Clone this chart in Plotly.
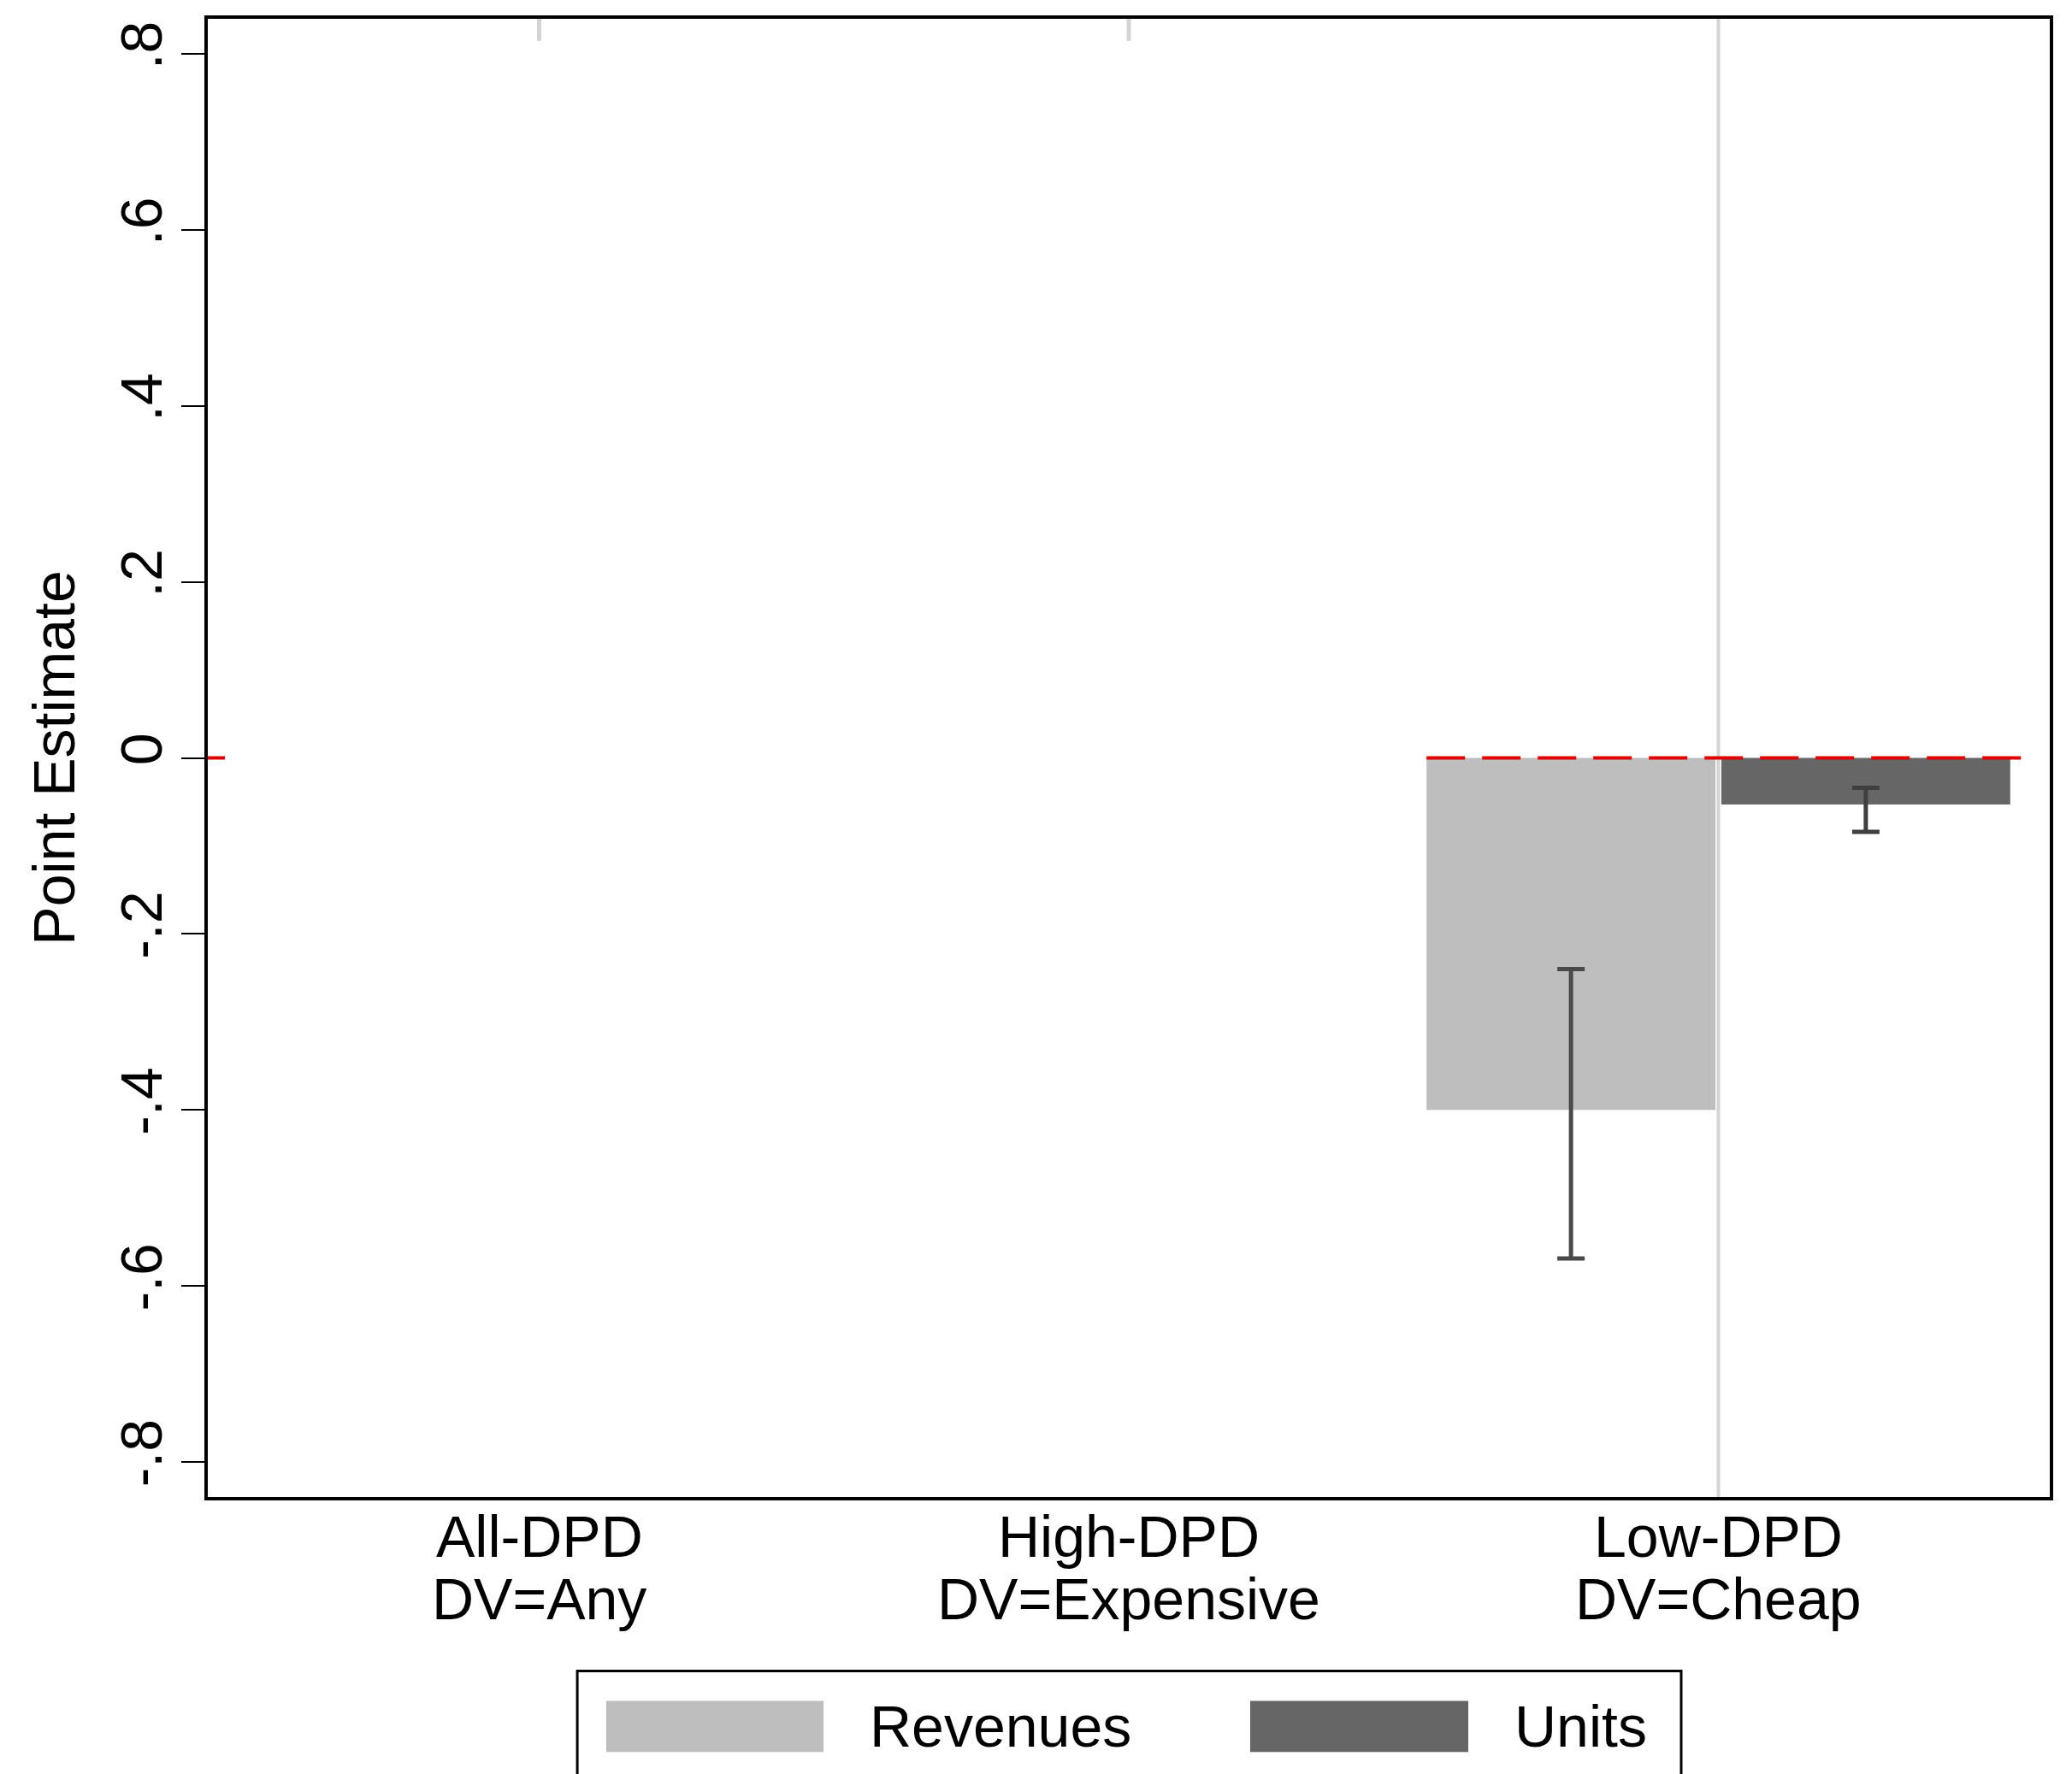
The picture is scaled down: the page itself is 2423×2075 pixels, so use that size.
import plotly.graph_objects as go

# ---- data ----
categories = ["All-DPD\nDV=Any", "High-DPD\nDV=Expensive", "Low-DPD\nDV=Cheap"]
cat_pos = [0, 1, 2]
revenues = [None, None, -0.40]
revenues_lo = [None, None, -0.569]
revenues_hi = [None, None, -0.240]
units = [None, None, -0.053]
units_lo = [None, None, -0.084]
units_hi = [None, None, -0.034]
ytick_vals = [0.8, 0.6, 0.4, 0.2, 0, -0.2, -0.4, -0.6, -0.8]
ytick_text = [".8", ".6", ".4", ".2", "0", "-.2", "-.4", "-.6", "-.8"]
legend_names = ["Revenues", "Units"]

COL_REV = "#bebebe"
COL_UNI = "#666666"
COL_ERR = "#4a4a4a"
FONT = "Liberation Sans, Arial, Helvetica, sans-serif"
FS = 68


def err_plus(v, hi):
    return [None if a is None else b - a for a, b in zip(v, hi)]


def err_minus(v, lo):
    return [None if a is None else a - b for a, b in zip(v, lo)]


fig = go.Figure()
fig.add_trace(go.Bar(
    x=cat_pos, y=revenues, name=legend_names[0], marker_color=COL_REV,
    marker_line_width=0, showlegend=False,
    error_y=dict(type="data", symmetric=False, array=err_plus(revenues, revenues_hi),
                 arrayminus=err_minus(revenues, revenues_lo), color=COL_ERR,
                 thickness=5, width=16),
))
fig.add_trace(go.Bar(
    x=cat_pos, y=units, name=legend_names[1], marker_color=COL_UNI,
    marker_line_width=0, showlegend=False,
    error_y=dict(type="data", symmetric=False, array=err_plus(units, units_hi),
                 arrayminus=err_minus(units, units_lo), color="#3f3f3f",
                 thickness=5, width=16),
))

shapes = []
# light gray vertical markers at the categories
shapes.append(dict(type="line", xref="x", yref="y", x0=2, x1=2, y0=-0.84, y1=0.84,
                   line=dict(color="#d4d4d4", width=4), layer="below"))
for c in [0, 1]:
    shapes.append(dict(type="line", xref="x", yref="y", x0=c, x1=c, y0=0.815, y1=0.84,
                       line=dict(color="#d4d4d4", width=5), layer="below"))
# red zero reference line
shapes.append(dict(type="line", xref="x", yref="y", x0=1.505, x1=2.54, y0=0, y1=0,
                   line=dict(color="#e00000", width=4, dash="45px,20px"), layer="above"))
shapes.append(dict(type="line", xref="x", yref="y", x0=-0.562, x1=-0.533, y0=0, y1=0,
                   line=dict(color="#e00000", width=4), layer="above"))

# manual legend (Stata-style wide swatches)
shapes.append(dict(type="rect", xref="paper", yref="paper", x0=0.2006, x1=0.7999,
                   y0=-0.21, y1=-0.1177, line=dict(color="black", width=3),
                   fillcolor="white", layer="above"))
shapes.append(dict(type="rect", xref="paper", yref="paper", x0=0.2163, x1=0.3343,
                   y0=-0.1725, y1=-0.1379, line=dict(width=0), fillcolor=COL_REV))
shapes.append(dict(type="rect", xref="paper", yref="paper", x0=0.5659, x1=0.6843,
                   y0=-0.1725, y1=-0.1379, line=dict(width=0), fillcolor=COL_UNI))

annotations = [
    dict(xref="paper", yref="paper", x=0.3584, y=-0.1552, text=legend_names[0],
         showarrow=False, xanchor="left", yanchor="middle",
         font=dict(family=FONT, size=FS, color="black")),
    dict(xref="paper", yref="paper", x=0.7085, y=-0.1552, text=legend_names[1],
         showarrow=False, xanchor="left", yanchor="middle",
         font=dict(family=FONT, size=FS, color="black")),
]
# category labels (two lines, Stata-like tight line spacing)
for pos, lab in zip(cat_pos, categories):
    l1, l2 = lab.split("\n")
    annotations.append(dict(xref="x", yref="paper", x=pos, y=-0.0265, text=l1,
                            showarrow=False, xanchor="center", yanchor="middle",
                            font=dict(family=FONT, size=FS, color="black")))
    annotations.append(dict(xref="x", yref="paper", x=pos, y=-0.0687, text=l2,
                            showarrow=False, xanchor="center", yanchor="middle",
                            font=dict(family=FONT, size=FS, color="black")))

fig.update_layout(
    width=2423, height=2075,
    margin=dict(l=235, r=34, t=10, b=332),
    paper_bgcolor="white", plot_bgcolor="white",
    barmode="group", bargap=0.0, bargroupgap=0.02,
    font=dict(family=FONT, size=FS, color="black"),
    shapes=shapes, annotations=annotations,
    showlegend=False,
)
fig.update_xaxes(
    range=[-0.562, 2.562], tickmode="array", tickvals=cat_pos,
    ticktext=["" for _ in categories],
    ticks="", showgrid=False, zeroline=False, showline=True, linecolor="black",
    linewidth=4, mirror=True,
)
fig.update_yaxes(
    range=[-0.84, 0.84], tickmode="array", tickvals=ytick_vals, ticktext=ytick_text,
    ticks="outside", ticklen=27, tickwidth=2, tickcolor="black", tickangle=-90,
    showgrid=False, zeroline=False, showline=True, linecolor="black", linewidth=4,
    mirror=True, tickfont=dict(size=FS), ticklabelstandoff=-4,
    title=dict(text="Point Estimate", font=dict(size=FS), standoff=18),
)

fig.write_html("out.html")
